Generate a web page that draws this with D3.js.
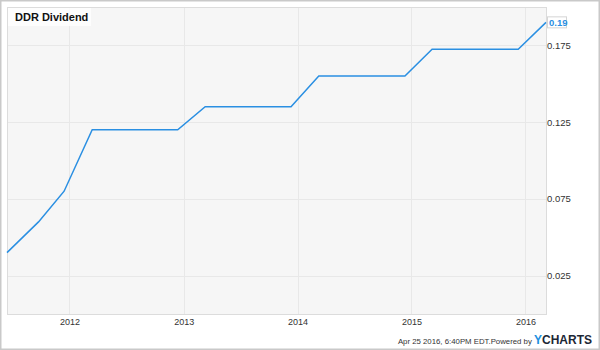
<!DOCTYPE html>
<html>
<head>
<meta charset="utf-8">
<script src="https://cdn.jsdelivr.net/npm/d3@7"></script>
<style>
  body { margin: 0; background: #fff; }
  svg { display: block; font-family: "Liberation Sans", Arial, sans-serif; }
</style>
</head>
<body>
<svg id="chart"></svg>
<script>
const width = 600;
const height = 350;

const dates = [
  "2011-06-15", "2011-09-24", "2011-12-15", "2012-03-14", "2012-12-13", "2013-03-11",
  "2013-12-11", "2014-03-10", "2014-12-11", "2015-03-08", "2015-12-09", "2016-03-07"
];
const dividends = [0.04, 0.06, 0.08, 0.12, 0.12, 0.135, 0.135, 0.155, 0.155, 0.1725, 0.1725, 0.19];
const yTicks = [0.025, 0.075, 0.125, 0.175];
const xTickYears = [2012, 2013, 2014, 2015, 2016];

const parse = d3.timeParse("%Y-%m-%d");
const data = dates.map((d, i) => ({ date: parse(d), value: dividends[i] }));

const plot = { left: 7, top: 7, right: 546, bottom: 314 };

const svg = d3.select("#chart").attr("width", width).attr("height", height);

// outer frame
svg.append("rect")
  .attr("x", 0.75).attr("y", 0.75)
  .attr("width", width - 1.5).attr("height", height - 1.5)
  .attr("fill", "#fff")
  .attr("stroke", "#c9c9c9")
  .attr("stroke-width", 1.5);

const x = d3.scaleTime()
  .domain(d3.extent(data, d => d.date))
  .range([plot.left, plot.right]);

const y = d3.scaleLinear()
  .domain([0, 0.2])
  .range([plot.bottom, plot.top]);

svg.append("rect")
  .attr("x", plot.left + 0.5).attr("y", plot.top + 0.5)
  .attr("width", plot.right - plot.left).attr("height", plot.bottom - plot.top)
  .attr("fill", "#f6f6f6")
  .attr("stroke", "#dcdcdc");

const xTicks = xTickYears.map(yr => new Date(yr, 0, 1));

// gridlines
svg.append("g")
  .selectAll("line")
  .data(yTicks)
  .join("line")
  .attr("x1", plot.left + 1).attr("x2", plot.right)
  .attr("y1", d => Math.round(y(d)) + 0.5).attr("y2", d => Math.round(y(d)) + 0.5)
  .attr("stroke", "#e8e8e8");

svg.append("g")
  .selectAll("line")
  .data(xTicks)
  .join("line")
  .attr("x1", d => Math.round(x(d)) + 0.5).attr("x2", d => Math.round(x(d)) + 0.5)
  .attr("y1", plot.top + 1).attr("y2", plot.bottom)
  .attr("stroke", "#e8e8e8");

// axes
const xAxis = d3.axisBottom(x).tickValues(xTicks).tickFormat(d3.timeFormat("%Y")).tickSize(0).tickPadding(5);
const yAxis = d3.axisRight(y).tickValues(yTicks).tickFormat(d3.format(".3f")).tickSize(0).tickPadding(1);

svg.append("g")
  .attr("transform", `translate(0, ${plot.bottom})`)
  .call(xAxis)
  .call(g => g.select(".domain").remove())
  .call(g => g.selectAll("text").attr("fill", "#333").style("font-size", "9px"));

svg.append("g")
  .attr("transform", `translate(${plot.right}, 0)`)
  .call(yAxis)
  .call(g => g.select(".domain").remove())
  .call(g => g.selectAll("text").attr("fill", "#333").style("font-size", "9.5px"));

// line
const line = d3.line().x(d => x(d.date)).y(d => y(d.value));

svg.append("path")
  .datum(data)
  .attr("fill", "none")
  .attr("stroke", "#2a8fe2")
  .attr("stroke-width", 1.5)
  .attr("d", line);

// title box
svg.append("rect")
  .attr("x", plot.left + 1).attr("y", plot.top + 1)
  .attr("width", 83).attr("height", 18)
  .attr("fill", "#fff")
  .attr("opacity", 0.8);

svg.append("text")
  .attr("x", 15).attr("y", 20.5)
  .attr("font-size", "11px")
  .attr("font-weight", "bold")
  .attr("fill", "#111")
  .text("DDR Dividend");

// last value label
const last = data[data.length - 1];
svg.append("rect")
  .attr("x", plot.right + 1.5).attr("y", y(last.value) - 5.5)
  .attr("width", 19).attr("height", 11)
  .attr("fill", "#fff")
  .attr("stroke", "#d5d5d5");

svg.append("text")
  .attr("x", plot.right + 3).attr("y", y(last.value) + 3.5)
  .attr("font-size", "9.5px")
  .attr("font-weight", "bold")
  .attr("fill", "#2a8fe2")
  .text(last.value.toFixed(2));

// footer
const footer = svg.append("text")
  .attr("x", 592).attr("y", 344)
  .attr("text-anchor", "end");

footer.append("tspan")
  .attr("font-size", "7.8px")
  .attr("fill", "#333")
  .text("Apr 25 2016, 6:40PM EDT.Powered by ");

footer.append("tspan")
  .attr("font-size", "12px")
  .attr("font-weight", "bold")
  .attr("fill", "#1e8fe0")
  .text("Y");

footer.append("tspan")
  .attr("font-size", "12px")
  .attr("font-weight", "bold")
  .attr("fill", "#1c2735")
  .text("CHARTS");
</script>
</body>
</html>
